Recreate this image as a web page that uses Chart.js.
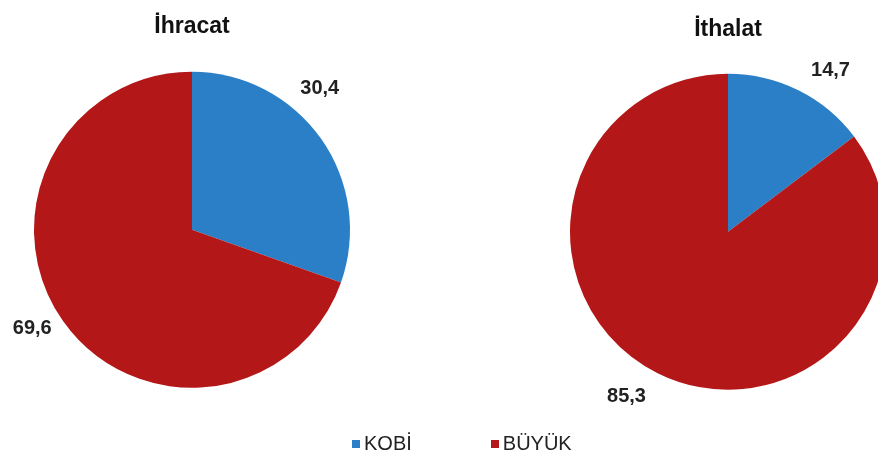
<!DOCTYPE html>
<html>
<head>
<meta charset="utf-8">
<script src="https://cdn.jsdelivr.net/npm/chart.js@4/dist/chart.umd.min.js"></script>
<style>
    html, body {
        margin: 0;
        padding: 0;
        width: 878px;
        height: 461px;
        overflow: hidden;
        background: #ffffff;
        font-family: 'Liberation Sans', Arial, sans-serif;
    }
    .pie-box { position: absolute; top: 0; height: 461px; }
    #exportBox { left: 0; width: 400px; }
    #importBox { left: 440px; width: 460px; }
    #legend {
        position: absolute;
        left: 352px;
        top: 432px;
        display: flex;
        font-size: 20px;
        color: #222222;
    }
    .legend-item { display: flex; align-items: center; }
    .legend-item + .legend-item { margin-left: 79px; }
    .legend-swatch { width: 8px; height: 8px; margin-right: 4px; }
</style>
</head>
<body>
<div id="exportBox" class="pie-box"><canvas id="exportPie"></canvas></div>
<div id="importBox" class="pie-box"><canvas id="importPie"></canvas></div>
<div id="legend"></div>

<script>
var categories = ['KOBİ', 'BÜYÜK'];
var exportValues = [30.4, 69.6];
var importValues = [14.7, 85.3];
var sliceColors = ['#2b7fc6', '#b31717'];

// writes the share next to each slice, pushed out along the slice's middle angle
var sliceLabels = {
    id: 'sliceLabels',
    afterDatasetsDraw: function(chart, args, opts) {
        var ctx = chart.ctx;
        var meta = chart.getDatasetMeta(0);
        var values = chart.data.datasets[0].data;
        ctx.save();
        ctx.font = 'bold 20px "Liberation Sans", Arial, sans-serif';
        ctx.fillStyle = '#222222';
        ctx.textAlign = 'center';
        ctx.textBaseline = 'middle';
        meta.data.forEach(function(arc, i) {
            var mid = (arc.startAngle + arc.endAngle) / 2;
            var dist = arc.outerRadius * 1.2;
            var shift = opts.shifts[i] || [0, 0];
            var x = arc.x + Math.cos(mid) * dist + shift[0];
            var y = arc.y + Math.sin(mid) * dist + shift[1];
            ctx.fillText(values[i].toFixed(1).replace('.', ','), x, y);
        });
        ctx.restore();
    }
};

function buildPie(canvasId, title, values, padding, titlePadding, shifts) {
    var ctx = document.getElementById(canvasId).getContext('2d');
    return new Chart(ctx, {
        type: 'pie',
        data: {
            labels: categories,
            datasets: [{
                data: values,
                backgroundColor: sliceColors,
                borderWidth: 0
            }]
        },
        options: {
            responsive: true,
            maintainAspectRatio: false,
            animation: false,
            layout: { padding: padding },
            plugins: {
                legend: { display: false },
                tooltip: { enabled: false },
                title: {
                    display: true,
                    text: title,
                    color: '#111111',
                    font: { family: '"Liberation Sans", Arial, sans-serif', size: 23, weight: 'bold' },
                    padding: titlePadding
                },
                sliceLabels: { shifts: shifts }
            }
        },
        plugins: [sliceLabels]
    });
}

buildPie('exportPie', 'İhracat', exportValues,
    { left: 34, right: 50, top: 0, bottom: 73 },
    { top: 13, bottom: 31 },
    [[-27, -32], [-5, -11]]);

buildPie('importPie', 'İthalat', importValues,
    { left: 130, right: 14, top: 0, bottom: 71 },
    { top: 16, bottom: 30 },
    [[18, 8], [-17, -5]]);

// shared legend under both pies
var legend = document.getElementById('legend');
categories.forEach(function(name, i) {
    var item = document.createElement('div');
    item.className = 'legend-item';
    item.innerHTML = '<span class="legend-swatch" style="background:' + sliceColors[i] + '"></span>' +
        '<span>' + name + '</span>';
    legend.appendChild(item);
});
</script>
</body>
</html>
